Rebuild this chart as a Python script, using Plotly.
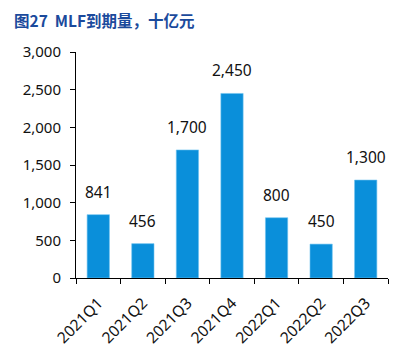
import plotly.graph_objects as go

categories = ["2021Q1", "2021Q2", "2021Q3", "2021Q4", "2022Q1", "2022Q2", "2022Q3"]
values = [841, 456, 1700, 2450, 800, 450, 1300]
labels = ["841", "456", "1,700", "2,450", "800", "450", "1,300"]
title = "图27  MLF到期量，十亿元"

font_main = "Noto Sans, Noto Sans CJK SC, sans-serif"

# the page body has an 8px default margin, so the figure is offset by (8, 8)
fig = go.Figure(go.Bar(
    x=categories, y=values,
    marker=dict(color="#0A8FDA", line=dict(color="#6EC3F0", width=0.6)),
    width=0.5,
))

for c, v, t in zip(categories, values, labels):
    fig.add_annotation(x=c, y=v, text=t, showarrow=False, yanchor="bottom", yshift=10,
                       font=dict(size=15.5, color="#111111", family=font_main))

fig.update_layout(
    width=413, height=364,
    margin=dict(l=68, r=33, t=44, b=94),
    paper_bgcolor="white", plot_bgcolor="white",
    showlegend=False,
    font=dict(family=font_main, size=15, color="#111111"),
    title=dict(text=title, x=0.0145, xanchor="left", y=0.9615, yanchor="middle", pad=dict(l=0, r=0, t=0, b=0),
               font=dict(family="Noto Sans CJK SC, sans-serif", size=15.5, color="#1B4A9C", weight="bold")),
)
fig.update_xaxes(
    type="category", showline=True, linecolor="black", linewidth=1,
    ticks="outside", tickson="boundaries", ticklen=5, tickcolor="black",
    tickangle=-45, tickfont=dict(size=15.5), showgrid=False, automargin=False,
    ticklabelstandoff=9,
)
fig.update_yaxes(
    range=[0, 3000], dtick=500, tickformat=",", showline=True, linecolor="black", linewidth=1,
    ticks="outside", ticklen=5, tickcolor="black", showgrid=False, zeroline=False,
    ticklabelstandoff=6, automargin=False,
)

fig.write_html("out.html")
